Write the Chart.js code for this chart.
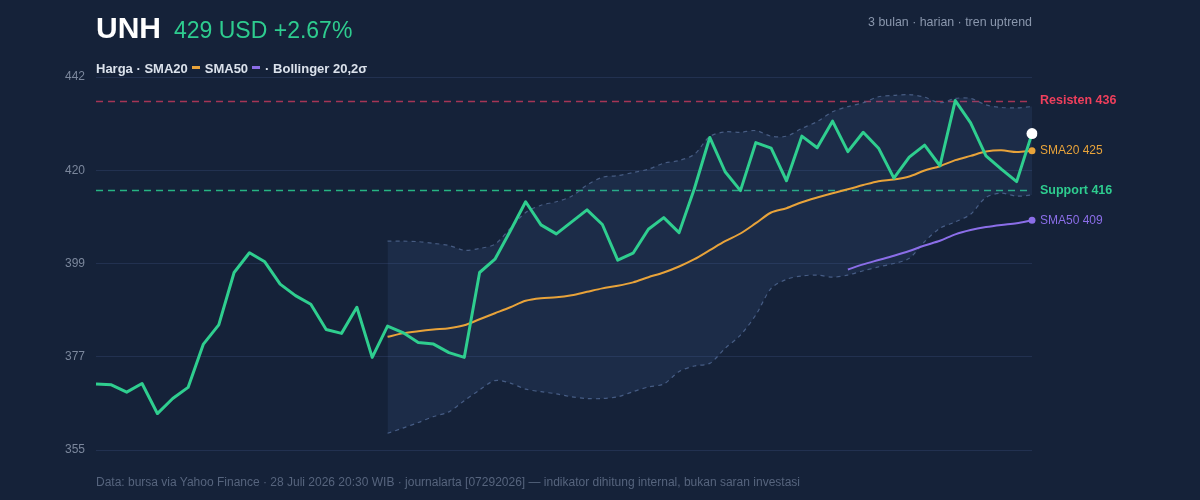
<!DOCTYPE html>
<html>
<head>
<meta charset="utf-8">
<script src="https://cdn.jsdelivr.net/npm/chart.js@4/dist/chart.umd.min.js"></script>
<style>
  html,body{margin:0;padding:0;}
  body{width:1200px;height:500px;overflow:hidden;position:relative;background:#152239;font-family:"Liberation Sans",Arial,Helvetica,sans-serif;}
  canvas{position:absolute;left:0;top:0;}
  .t{position:absolute;white-space:nowrap;line-height:1;}
  #sym{left:96px;top:13px;font-size:30px;font-weight:bold;color:#ffffff;}
  #quote{left:174px;top:18.5px;font-size:23px;color:#2ecc8f;}
  #meta{right:168px;top:15.5px;font-size:12.4px;color:#8a97ad;}
  #legend{left:96px;top:61.5px;font-size:13px;font-weight:bold;color:#dbe2ec;}
  #legend .d{display:inline-block;width:8px;height:3px;vertical-align:4px;margin:0 5px 0 4px;}
  #foot{left:96px;top:476px;font-size:12px;color:#56647d;}
</style>
</head>
<body>
<canvas id="c" width="1200" height="500"></canvas>
<div class="t" id="sym">UNH</div>
<div class="t" id="quote">429 USD +2.67%</div>
<div class="t" id="meta">3 bulan · harian · tren uptrend</div>
<div class="t" id="legend">Harga · SMA20<span class="d" style="background:#e8a33a"></span>SMA50<span class="d" style="background:#8b6ee8"></span>· Bollinger 20,2σ</div>
<div class="t" id="foot">Data: bursa via Yahoo Finance · 28 Juli 2026 20:30 WIB · journalarta [07292026] — indikator dihitung internal, bukan saran investasi</div>
<script>
// ---- data ----
const categories = Array.from({length: 62}, (_, i) => 'H' + (i + 1));

const price = [
  370.4, 370.2, 368.5, 370.5, 363.5, 367.0, 369.6, 379.7, 384.2, 396.4,
  401.0, 398.9, 393.7, 391.0, 389.0, 383.1, 382.2, 388.3, 376.6, 383.9,
  382.4, 380.1, 379.7, 377.7, 376.6, 396.4, 399.5, 406.1, 412.9, 407.5,
  405.4, 408.2, 411.0, 407.6, 399.3, 400.9, 406.5, 409.2, 405.7, 416.0,
  427.9, 419.9, 415.5, 426.7, 425.4, 417.8, 428.2, 425.5, 431.7, 424.6,
  429.1, 425.4, 418.4, 423.3, 426.1, 421.3, 436.5, 431.3, 423.6, 420.5,
  417.6, 428.8
];

const sma20 = [
  null, null, null, null, null, null, null, null, null, null,
  null, null, null, null, null, null, null, null, null, 381.4,
  382.2, 382.7, 383.1, 383.4, 384.1, 385.5, 386.9, 388.3, 389.8, 390.4,
  390.6, 391.1, 391.9, 392.7, 393.3, 394.1, 395.3, 396.4, 397.8, 399.5,
  401.6, 403.7, 405.5, 407.9, 410.4, 411.4, 412.8, 413.9, 414.9, 415.8,
  416.8, 417.7, 418.1, 418.8, 420.2, 421.2, 422.6, 423.6, 424.6, 424.9,
  424.5, 424.8
];

const sma50 = [
  null, null, null, null, null, null, null, null, null, null,
  null, null, null, null, null, null, null, null, null, null,
  null, null, null, null, null, null, null, null, null, null,
  null, null, null, null, null, null, null, null, null, null,
  null, null, null, null, null, null, null, null, null, 397.1,
  398.3, 399.3, 400.3, 401.4, 402.7, 403.8, 405.3, 406.3, 407.0, 407.5,
  407.9, 408.6
];

const bbUpper = [
  null, null, null, null, null, null, null, null, null, null,
  null, null, null, null, null, null, null, null, null, 403.7,
  403.7, 403.6, 403.2, 402.7, 401.6, 402.0, 403.0, 406.7, 410.4, 412.1,
  412.9, 414.2, 416.8, 418.6, 419.0, 419.7, 420.5, 421.9, 422.5, 424.0,
  428.1, 429.2, 429.1, 429.5, 428.2, 428.2, 430.0, 431.6, 433.9, 435.1,
  436.0, 437.4, 437.7, 437.9, 437.3, 436.0, 437.0, 437.0, 435.5, 434.9,
  434.8, 435.1
];

const bbLower = [
  null, null, null, null, null, null, null, null, null, null,
  null, null, null, null, null, null, null, null, null, 358.9,
  360.1, 361.4, 362.8, 363.9, 366.5, 369.0, 371.2, 370.6, 369.2, 368.6,
  368.1, 367.4, 367.0, 367.0, 367.4, 368.6, 369.7, 370.4, 373.3, 374.6,
  375.2, 378.7, 381.8, 386.5, 392.7, 394.8, 395.6, 395.8, 395.3, 395.8,
  396.8, 397.7, 398.5, 399.7, 403.6, 406.7, 408.2, 410.0, 413.9, 414.9,
  414.2, 414.5
];

const levelValues = [436.4, 415.6];
const levelNames = ['Resisten', 'Support'];

const yTicks = [355, 376.75, 398.5, 420.25, 442];
const yTickLabels = ['355', '377', '399', '420', '442'];

// ---- styling ----
const C_PRICE = '#2fce8f';
const C_SMA20 = '#e8a33a';
const C_SMA50 = '#8b6ee8';
const C_BAND = '#475c82';
const levelLine = ['rgba(214,60,95,0.75)', 'rgba(40,196,140,0.9)'];
const levelText = ['#ef3f5c', '#2ecc8f'];

const lastIdx = price.length - 1;
const lastOnly = (r) => (ctx) => ctx.dataIndex === lastIdx ? r : 0;

const overlay = {
  id: 'overlay',
  beforeDatasetsDraw(chart) {
    const {ctx, chartArea: a, scales: {y}} = chart;
    levelValues.forEach((v, i) => {
      const py = Math.round(y.getPixelForValue(v)) + 0.5;
      ctx.save();
      ctx.strokeStyle = levelLine[i];
      ctx.lineWidth = 1.5;
      ctx.setLineDash([7, 5]);
      ctx.beginPath();
      ctx.moveTo(a.left, py);
      ctx.lineTo(a.right, py);
      ctx.stroke();
      ctx.restore();
    });
  },
  afterDraw(chart) {
    const {ctx, chartArea: a, scales: {y}} = chart;
    const x = a.right + 8;
    ctx.save();
    ctx.textBaseline = 'middle';
    ctx.textAlign = 'left';
    levelValues.forEach((v, i) => {
      ctx.font = 'bold 12.5px "Liberation Sans", Arial, sans-serif';
      ctx.fillStyle = levelText[i];
      ctx.fillText(levelNames[i] + ' ' + Math.round(v), x, y.getPixelForValue(v));
    });
    ctx.font = '12px "Liberation Sans", Arial, sans-serif';
    const s20 = sma20[lastIdx], s50 = sma50[lastIdx];
    ctx.fillStyle = C_SMA20;
    ctx.fillText('SMA20 ' + Math.round(s20), x, y.getPixelForValue(s20));
    ctx.fillStyle = C_SMA50;
    ctx.fillText('SMA50 ' + Math.round(s50), x, y.getPixelForValue(s50));
    ctx.restore();
  }
};

new Chart(document.getElementById('c'), {
  type: 'line',
  data: {
    labels: categories,
    datasets: [
      {
        label: 'Harga', data: price, borderColor: C_PRICE, borderWidth: 3,
        tension: 0, borderJoinStyle: 'round',
        pointRadius: lastOnly(5.5), pointBackgroundColor: '#ffffff', pointBorderWidth: 0,
        pointHoverRadius: 0
      },
      {
        label: 'SMA20', data: sma20, borderColor: C_SMA20, borderWidth: 2,
        tension: 0.3, pointRadius: lastOnly(3.5), pointBackgroundColor: C_SMA20, pointBorderWidth: 0
      },
      {
        label: 'SMA50', data: sma50, borderColor: C_SMA50, borderWidth: 2,
        tension: 0.3, pointRadius: lastOnly(3.5), pointBackgroundColor: C_SMA50, pointBorderWidth: 0
      },
      {
        label: 'BB upper', data: bbUpper, borderColor: C_BAND, borderWidth: 1.2,
        borderDash: [4, 4], tension: 0.3, pointRadius: 0,
        fill: '+1', backgroundColor: 'rgba(70,105,170,0.14)'
      },
      {
        label: 'BB lower', data: bbLower, borderColor: C_BAND, borderWidth: 1.2,
        borderDash: [4, 4], tension: 0.3, pointRadius: 0, fill: false
      }
    ]
  },
  options: {
    responsive: false,
    animation: false,
    events: [],
    layout: {padding: {left: 0, top: 77, right: 168, bottom: 50}},
    plugins: {legend: {display: false}, tooltip: {enabled: false}},
    scales: {
      x: {display: false, offset: false},
      y: {
        min: 355, max: 442,
        afterFit(s) { s.width = 96; },
        afterBuildTicks(s) { s.ticks = yTicks.map(v => ({value: v})); },
        border: {display: false},
        grid: {color: '#223150', lineWidth: 1, drawTicks: false},
        ticks: {
          padding: 11, color: '#7b879c',
          font: {size: 12, family: '"Liberation Sans", Arial, sans-serif'},
          callback: (v, i) => yTickLabels[i]
        }
      }
    }
  },
  plugins: [overlay]
});
</script>
</body>
</html>
